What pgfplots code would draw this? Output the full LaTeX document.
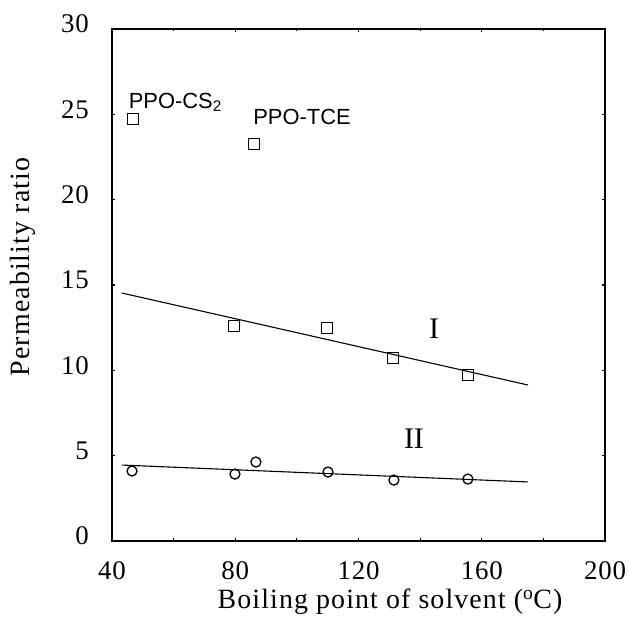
\documentclass[border=0pt]{standalone}
\usepackage{fontspec}
\setmainfont{Liberation Serif}
\newfontfamily\sfont{Liberation Sans}
\usepackage{pgfplots}
\pgfplotsset{compat=1.18}
\begin{document}
\begin{tikzpicture}
\useasboundingbox (-112bp,-76bp) rectangle (517bp,541bp);
\begin{axis}[
  at={(0,0)}, anchor=south west,
  scale only axis, width=493bp, height=512bp,
  xmin=40, xmax=200, ymin=0, ymax=30,
  xtick={40,80,120,160,200}, minor xtick={60,100,140,180},
  ytick={0,5,10,15,20,25,30},
  tick align=inside, major tick length=3bp, minor tick length=2.5bp,
  tick style={line width=1.2bp, black},
  axis line style={line width=1.5bp},
  /pgf/number format/assume math mode=true,
  tick label style={font=\fontsize{27}{29}\selectfont\addfontfeatures{LetterSpace=3}, inner sep=0pt},
  xticklabel style={anchor=center, yshift=-30bp},
  yticklabel style={anchor=east, xshift=-23bp, yshift=5bp},
  xlabel={Boiling point of solvent ($^{\mathrm{o}}$C)},
  ylabel={Permeability ratio},
  label style={font=\fontsize{28}{30}\selectfont\addfontfeatures{LetterSpace=4}, inner sep=0pt},
  xlabel style={at={(axis description cs:0.564,-0.118)}, anchor=center},
  ylabel style={at={(axis description cs:-0.1805,0.535)}, anchor=center},
  clip=false,
]
% Series I (squares)
\addplot[only marks, mark=square, mark size=5.5bp, mark options={line width=1.3bp}] coordinates {
  (46.8,24.72) (86.1,23.26) (79.6,12.6) (109.8,12.48) (131.2,10.72) (155.5,9.73)
};
% Series II (circles)
\addplot[only marks, mark=o, mark size=5bp, mark options={line width=1.3bp}] coordinates {
  (46.5,4.10) (79.9,3.92) (86.7,4.63) (110.1,4.04) (131.5,3.57) (155.5,3.63)
};
% Fit lines
\addplot[line width=1.1bp] coordinates {(43.2,14.53) (175,9.14)};
\addplot[line width=1.1bp] coordinates {(43.2,4.45) (175,3.46)};
\node[font=\fontsize{30}{32}\selectfont] at (axis cs:144.5,12.42) {I};
\node[font=\fontsize{30}{32}\selectfont] at (axis cs:138,5.98) {II};
\node[font=\sfont\fontsize{22}{24}\selectfont, anchor=west, inner sep=0pt] at (axis cs:45.4,25.7) {PPO-CS\textsubscript{2}};
\node[font=\sfont\fontsize{22}{24}\selectfont, anchor=west, inner sep=0pt] at (axis cs:85.8,24.84) {PPO-TCE};
\end{axis}
\end{tikzpicture}
\end{document}
